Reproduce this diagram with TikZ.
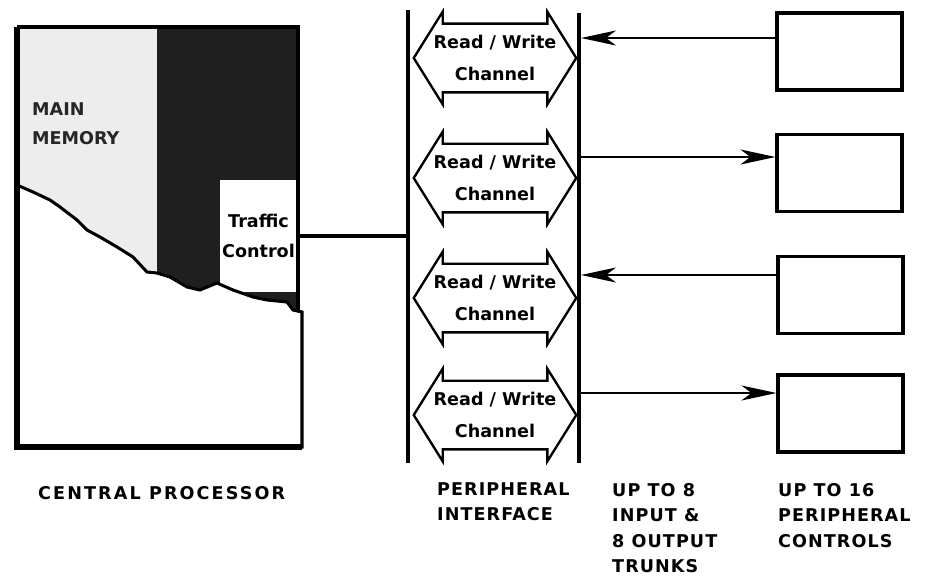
\documentclass[tikz,border=0pt]{standalone}
\usepackage{fontspec}
\setmainfont{DejaVu Sans}
\newfontfamily\caplabelfont[LetterSpace=6]{DejaVu Sans}
\newfontfamily\cpulabelfont[LetterSpace=12]{DejaVu Sans}
\usetikzlibrary{shapes.arrows,arrows.meta,calc}

\tikzset{
  bus/.style={line width=3.4pt},
  trunk/.style={line width=1.8pt, -{Stealth[length=1.05cm,width=4.5mm,inset=3mm]}},
  ctrlbox/.style={draw, line width=2.6pt, minimum width=3.75cm, minimum height=2.31cm, fill=white},
  rwchan/.style={double arrow, draw, line width=2pt, double arrow tip angle=116,
    double arrow head extend=0.36cm, inner xsep=-0.08cm, inner ysep=8.5pt,
    align=center, font=\bfseries\fontsize{15}{28}\selectfont},
  tcbox/.style={fill=white, minimum width=2.31cm, minimum height=3.36cm, inner sep=0pt,
    align=center, font=\bfseries\fontsize{15}{26}\selectfont},
  memtext/.style={anchor=north west, align=left, inner sep=0pt, text=black!85,
    font=\bfseries\fontsize{15}{25}\selectfont},
  undertext/.style={anchor=north west, align=left, inner sep=0pt,
    font=\caplabelfont\bfseries\fontsize{15}{21.8}\selectfont},
}

\begin{document}
\begin{tikzpicture}[x=0.03cm, y=-0.03cm]
	\useasboundingbox (0,0) rectangle (934,578);

	% central processor: back panel
	\fill[black!88] (17,27) rectangle (298,312);
	\fill[black!7] (17,27) rectangle (157,300);
	\node[memtext] (mm) at (32,102) {MAIN\\MEMORY};
	\node[tcbox] (tc) at (258.5,236) {Traffic\\Control};

	% central processor: torn front sheet
	\filldraw[fill=white, line width=2.6pt]
	(17,185) -- (33,192) -- (50,200) -- (60,207) -- (77,220) -- (87,230)
	-- (100,237) -- (117,247) -- (133,257) -- (147,272) -- (157,273)
	-- (170,277) -- (187,287) -- (200,290) -- (217,283) -- (233,290)
	-- (253,297) -- (267,300) -- (287,302) -- (293,310) -- (302,312)
	-- (302,447) -- (17,447) -- cycle;

	% frame
	\draw[line width=2.6pt] (298,312) -- (298,27) -- (17,27);
	\draw[line width=4.3pt] (17,27) -- (17,447) -- (302,447);

	% peripheral interface
	\coordinate (ifl-top) at (408,10);
	\coordinate (ifl-bot) at (408,463);
	\coordinate (ifr-top) at (579,13);
	\coordinate (ifr-bot) at (579,463);
	\draw[bus] (ifl-top) -- (ifl-bot);
	\draw[bus] (ifr-top) -- (ifr-bot);
	\draw[bus] (tc.east) -- (tc.east -| ifl-top);

	\node[rwchan] (ch1) at (495,58) {Read / Write\\Channel};
	\node[rwchan] (ch2) at (495,178) {Read / Write\\Channel};
	\node[rwchan] (ch3) at (495,298) {Read / Write\\Channel};
	\node[rwchan] (ch4) at (495,415) {Read / Write\\Channel};

	% peripheral controls
	\node[ctrlbox] (pc1) at (839.5,51.5) {};
	\node[ctrlbox] (pc2) at (839.5,173) {};
	\node[ctrlbox] (pc3) at (840.5,295) {};
	\node[ctrlbox] (pc4) at (840.5,413.5) {};

	% trunks
	\coordinate (t1) at (581,38);
	\coordinate (t2) at (581,157);
	\coordinate (t3) at (581,275);
	\coordinate (t4) at (581,393);
	\draw[trunk] (t1 -| pc1.west) -- (t1);
	\draw[trunk] (t2) -- (t2 -| pc2.west);
	\draw[trunk] (t3 -| pc3.west) -- (t3);
	\draw[trunk] (t4) -- (t4 -| pc4.west);

	% labels
	\node[undertext, font=\cpulabelfont\bfseries\fontsize{15}{21.8}\selectfont] (cpu) at (38,486) {CENTRAL PROCESSOR};
	\node[undertext] (pif) at (437,482) {PERIPHERAL\\INTERFACE};
	\node[undertext] (trk) at (612,483) {UP TO 8\\INPUT \&\\8 OUTPUT\\TRUNKS};
	\node[undertext] (pcl) at (778,483) {UP TO 16\\PERIPHERAL\\CONTROLS};

\end{tikzpicture}
\end{document}
